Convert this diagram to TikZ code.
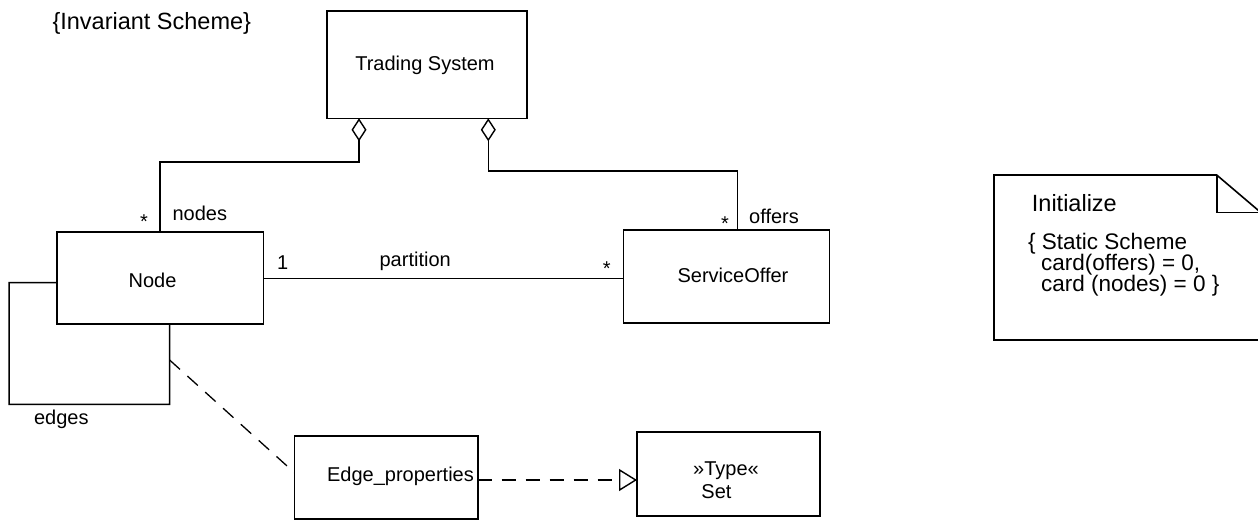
\documentclass[tikz,border=0pt]{standalone}
\usepackage{fontspec}
\setmainfont{Liberation Sans}
\usetikzlibrary{arrows.meta,calc}
\begin{document}
\begin{tikzpicture}[x=1pt,y=-1pt,
  box/.style={draw,line width=1.6pt,inner sep=0pt,outer sep=0pt},
  conn/.style={line width=1.5pt},
  dep/.style={line width=1.3pt,dash pattern=on 14pt off 10pt},
  txt/.style={inner sep=0pt,font=\fontsize{20}{24}\selectfont},
  bigtxt/.style={inner sep=0pt,font=\fontsize{23.5}{28}\selectfont},
  notetxt/.style={inner sep=0pt,font=\fontsize{22.5}{27}\selectfont},
  agg/.style={{Diamond[open,length=23pt,width=15pt,line width=1.4pt]}-},
  real/.style={-{Triangle[open,length=18pt,width=22pt,line width=1.4pt]}}]
\useasboundingbox (0,0) rectangle (1258,520);
\clip (0,0) rectangle (1258,520);
\fill[white] (0,0) rectangle (1258,520);

% boxes
\node[box,minimum width=200pt,minimum height=107.6pt] (ts) at (426.7,64.5) {};
\node[box,minimum width=206.6pt,minimum height=92.3pt] (n) at (160,277.85) {};
\node[box,minimum width=206pt,minimum height=92.7pt] (so) at (726.3,276.35) {};
\node[box,minimum width=183.2pt,minimum height=83.3pt] (ep) at (386.1,477.35) {};
\node[box,minimum width=183pt,minimum height=84.3pt] (tb) at (728.5,473.85) {};

% box texts
\node[txt] (tst) at (425,65.7) {Trading System};
\node[txt] (nt) at (152.5,280) {Node};
\node[txt] (sot) at (733,275) {ServiceOffer};
\node[txt] (ept) at (400.5,476) {Edge\_properties};
\node[txt] (tbt1) at (726,471) {»Type«};
\node[txt] (tbt2) at (716.5,491.7) {Set};

% free texts
\node[bigtxt] (inv) at (151.8,23.3) {\{Invariant Scheme\}};
\node[txt] (lnodes) at (199.8,213) {nodes};
\node[txt,anchor=base] (lstar1) at (144,228) {*};
\node[txt] (loffers) at (774,216.7) {offers};
\node[txt,anchor=base] (lstar2) at (725,230.5) {*};
\node[txt] (lone) at (282.7,263) {1};
\node[txt] (lpart) at (415.2,261.7) {partition};
\node[txt,anchor=base] (lstar3) at (606.7,275.5) {*};
\node[txt] (ledges) at (61.3,419.3) {edges};

% aggregations
\draw[conn,agg] ($(ts.south)+(-67.7,0)$) -- (359,162) -- (160,162) -- (n.north);
\draw[conn,agg] ($(ts.south)+(61.6,0)$) -- (488.3,171) -- (737.7,171) -- ($(so.north)+(11.4,0)$);

% partition
\draw[conn] ($(n.east)+(0,0.6)$) -- ($(so.west)+(0,2.1)$);

% edges loop
\coordinate (lp) at ($(n.south)+(9.6,0)$);
\draw[conn] ($(n.west)+(0,4.8)$) -- (9,282.7) -- (9,404.3) -- (169.6,404.3) -- (lp);

% dependency to Edge_properties
\coordinate (ds) at ($(lp)+(0,36)$);
\draw[dep] (ds) -- ($(ep.west)+(0,-4.65)$);

% realization
\draw[dep,real] ($(ep.east)+(0,2.65)$) -- ($(tb.west)+(0,6.15)$);

% note
\draw[line width=1.6pt] (994,175) -- (1216.7,175) -- (1262,213.5) -- (1262,340) -- (994,340) -- cycle;
\draw[line width=1.6pt] (1216.7,175) -- (1216.7,212.3) -- (1262,212.3);
\node[bigtxt,anchor=west] (ni) at (1031.7,203.3) {Initialize};
\node[notetxt,anchor=base west] (nl1) at (1028,249.5) {\{ Static Scheme};
\node[notetxt,anchor=base west] (nl2) at (1041,270.5) {card(offers) = 0,};
\node[notetxt,anchor=base west] (nl3) at (1041,291.5) {card (nodes) = 0 \}};
\end{tikzpicture}
\end{document}
